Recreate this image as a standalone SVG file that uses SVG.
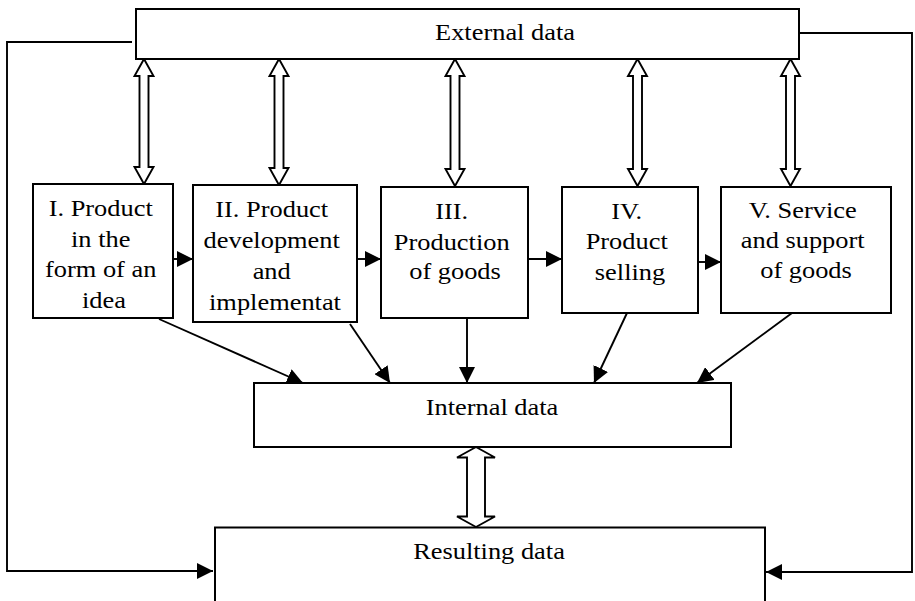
<svg xmlns="http://www.w3.org/2000/svg" width="915" height="601" viewBox="0 0 915 601">
  <style>
    .box { fill: #fff; stroke: #000; stroke-width: 2; }
    .lbl { font-family: "Liberation Serif", "Times New Roman", serif; font-size: 24px; fill: #000; text-anchor: middle; }
    .link { fill: none; stroke: #000; stroke-width: 1.9; }
    .dbl { fill: #fff; stroke: #000; stroke-width: 1.9; stroke-linejoin: miter; }
  </style>
  <defs>
    <marker id="head" markerUnits="userSpaceOnUse" markerWidth="16" markerHeight="16" refX="16" refY="8" orient="auto">
      <path d="M0,0 L16,8 L0,16 z" fill="#000"/>
    </marker>
  </defs>
  <rect width="915" height="601" fill="#fff"/>

  <!-- connectors -->
  <g id="connectors">
    <!-- two-way links between external data and each stage -->
    <polygon class="dbl" points="144,59 153.5,76 148.5,76 148.5,167 153.5,167 144,184 134.5,167 139.5,167 139.5,76 134.5,76"/>
    <polygon class="dbl" points="279,59 288.5,76 283.5,76 283.5,168 288.5,168 279,185 269.5,168 274.5,168 274.5,76 269.5,76"/>
    <polygon class="dbl" points="455,59 464.5,76 459.5,76 459.5,169 464.5,169 455,186 445.5,169 450.5,169 450.5,76 445.5,76"/>
    <polygon class="dbl" points="637.5,59 647,76 642,76 642,169 647,169 637.5,186 628,169 633,169 633,76 628,76"/>
    <polygon class="dbl" points="790.5,59 800,76 795,76 795,169 800,169 790.5,186 781,169 786,169 786,76 781,76"/>

    <!-- internal data <-> resulting data -->
    <polygon class="dbl" points="476,447 495,457.5 485,457.5 485,516.5 495,516.5 476,527 457,516.5 467,516.5 467,457.5 457,457.5"/>

    <!-- stage sequence -->
    <line class="link" x1="173" y1="259" x2="193" y2="259" marker-end="url(#head)"/>
    <line class="link" x1="357" y1="259" x2="381" y2="259" marker-end="url(#head)"/>
    <line class="link" x1="528" y1="259" x2="562" y2="259" marker-end="url(#head)"/>
    <line class="link" x1="698" y1="262" x2="721" y2="262" marker-end="url(#head)"/>

    <!-- stages feeding internal data -->
    <line class="link" x1="159" y1="319" x2="303" y2="383" marker-end="url(#head)"/>
    <line class="link" x1="350" y1="324" x2="390" y2="383" marker-end="url(#head)"/>
    <line class="link" x1="467" y1="318" x2="467" y2="383" marker-end="url(#head)"/>
    <line class="link" x1="627" y1="313" x2="594" y2="383" marker-end="url(#head)"/>
    <line class="link" x1="792" y1="313" x2="697" y2="383" marker-end="url(#head)"/>

    <!-- external data routed around to resulting data -->
    <polyline class="link" points="132,42 7,42 7,571 213,571" marker-end="url(#head)"/>
    <polyline class="link" points="799,33 912,33 912,572 766,572" marker-end="url(#head)"/>
  </g>

  <g id="external">
    <rect class="box" x="136" y="9" width="663" height="50"/>
    <text class="lbl" transform="translate(505 0) scale(1.1 1)" x="0" y="40.5">External data</text>
  </g>

  <g id="stage1">
    <rect class="box" x="33" y="184" width="140" height="134"/>
    <text class="lbl" transform="translate(104 0) scale(1.1 1)">
      <tspan x="0" y="216.5">I. Product</tspan>
      <tspan x="0" y="247">in the</tspan>
      <tspan x="0" y="277.5">form of an</tspan>
      <tspan x="0" y="308">idea</tspan>
    </text>
  </g>

  <g id="stage2">
    <rect class="box" x="193" y="185" width="164" height="137"/>
    <text class="lbl" transform="translate(275 0) scale(1.1 1)">
      <tspan x="0" y="217">II. Product</tspan>
      <tspan x="0" y="248">development</tspan>
      <tspan x="0" y="279">and</tspan>
      <tspan x="0" y="310">implementat</tspan>
    </text>
  </g>

  <g id="stage3">
    <rect class="box" x="381" y="187" width="147" height="131"/>
    <text class="lbl" transform="translate(455 0) scale(1.1 1)">
      <tspan x="0" y="219.5">III.</tspan>
      <tspan x="0" y="250">Production</tspan>
      <tspan x="0" y="279.5">of goods</tspan>
    </text>
  </g>

  <g id="stage4">
    <rect class="box" x="562" y="187" width="136" height="126"/>
    <text class="lbl" transform="translate(630 0) scale(1.1 1)">
      <tspan x="0" y="219.5">IV.</tspan>
      <tspan x="0" y="249.5">Product</tspan>
      <tspan x="0" y="280">selling</tspan>
    </text>
  </g>

  <g id="stage5">
    <rect class="box" x="721" y="187" width="170" height="126"/>
    <text class="lbl" transform="translate(806 0) scale(1.1 1)">
      <tspan x="0" y="218.5">V. Service</tspan>
      <tspan x="0" y="248.5">and support</tspan>
      <tspan x="0" y="278.5">of goods</tspan>
    </text>
  </g>

  <g id="internal">
    <rect class="box" x="254" y="383" width="477" height="64"/>
    <text class="lbl" transform="translate(492 0) scale(1.1 1)" x="0" y="415">Internal data</text>
  </g>

  <g id="resulting">
    <rect class="box" x="215" y="527.5" width="550" height="80"/>
    <text class="lbl" transform="translate(489 0) scale(1.1 1)" x="0" y="559.5">Resulting data</text>
  </g>
</svg>
